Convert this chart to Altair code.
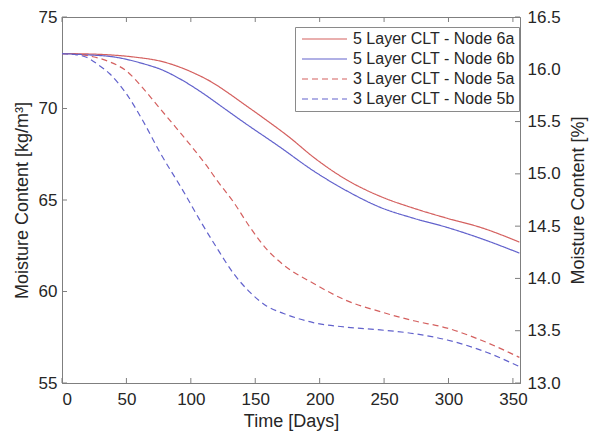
import altair as alt
import pandas as pd

series_names = ["5 Layer CLT - Node 6a", "5 Layer CLT - Node 6b",
                "3 Layer CLT - Node 5a", "3 Layer CLT - Node 5b"]

days_6a = [0, 20, 37, 55, 78, 102, 116, 128, 141, 154, 177, 195, 221, 247, 273, 299, 325, 355]
vals_6a = [73.0, 72.98, 72.93, 72.82, 72.56, 71.95, 71.45, 70.9, 70.25, 69.6, 68.4, 67.35, 66.1, 65.2, 64.55, 64.0, 63.5, 62.7]

days_6b = [0, 20, 39, 63, 78, 92, 109, 125, 141, 169, 195, 221, 247, 273, 299, 325, 355]
vals_6b = [73.0, 72.93, 72.83, 72.45, 72.1, 71.6, 70.85, 70.05, 69.25, 67.9, 66.6, 65.5, 64.6, 64.0, 63.5, 62.9, 62.1]

days_5a = [0, 12, 24, 37, 50, 63, 76, 88, 102, 112, 120, 133, 146, 159, 172, 195, 221, 247, 273, 299, 325, 355]
vals_5a = [73.0, 72.97, 72.83, 72.55, 72.05, 71.1, 70.0, 69.0, 67.8, 66.9, 66.1, 64.9, 63.5, 62.3, 61.45, 60.45, 59.5, 58.9, 58.4, 58.0, 57.35, 56.4]

days_5b = [0, 10, 19, 28, 37, 50, 63, 76, 94, 107, 120, 133, 146, 159, 172, 195, 221, 247, 273, 299, 325, 355]
vals_5b = [73.0, 72.95, 72.8, 72.4, 71.9, 70.8, 69.3, 67.6, 65.5, 63.9, 62.4, 61.0, 59.95, 59.2, 58.8, 58.3, 58.05, 57.9, 57.7, 57.35, 56.8, 55.9]

x_ticks = [0, 50, 100, 150, 200, 250, 300, 350]
left_ticks = [55, 60, 65, 70, 75]
right_ticks = [13, 13.5, 14, 14.5, 15, 15.5, 16, 16.5]

colors = ["#d4605f", "#6262cc", "#d4605f", "#6262cc"]
dashes = [[1, 0], [1, 0], [6, 4], [6, 4]]

rows = []
for name, ds, vs in zip(series_names, [days_6a, days_6b, days_5a, days_5b],
                        [vals_6a, vals_6b, vals_5a, vals_5b]):
    for d, v in zip(ds, vs):
        rows.append({"series": name, "day": d, "mc": v})
df = pd.DataFrame(rows)

FONT = "Liberation Sans"
AX = "#7f7f7f"
TXT = "#262626"
W, H = 458, 366

xscale = alt.Scale(domain=[0, 355.5], nice=False, zero=False)
yscale = alt.Scale(domain=[55, 75], nice=False, zero=False)
rscale = alt.Scale(domain=[13, 16.5], nice=False, zero=False)

legend_def = dict(title=None, orient="none", legendX=233, legendY=10,
                  symbolType="M-1,0L8,0", symbolSize=100,
                  symbolStrokeWidth=1.2, labelFontSize=16, labelLimit=400,
                  labelFont=FONT, labelColor=TXT, rowPadding=4,
                  fillColor="white", strokeColor="#8a8a8a",
                  padding=4, labelOffset=38)

lines = alt.Chart(df).mark_line(strokeWidth=1.2, interpolate="monotone").encode(
    x=alt.X("day:Q", scale=xscale,
            axis=alt.Axis(values=x_ticks, title="Time [Days]", tickSize=0,
                          labelPadding=8, titlePadding=5, format="d")),
    y=alt.Y("mc:Q", scale=yscale,
            axis=alt.Axis(values=left_ticks, title="Moisture Content [kg/m³]",
                          tickSize=0, labelPadding=5, titlePadding=7, format="d")),
    color=alt.Color("series:N", scale=alt.Scale(domain=series_names, range=colors),
                    legend=alt.Legend(**legend_def)),
    strokeDash=alt.StrokeDash("series:N", scale=alt.Scale(domain=series_names, range=dashes),
                              legend=alt.Legend(**legend_def)),
)

xt = pd.DataFrame({"t": x_ticks})
lt = pd.DataFrame({"t": left_ticks})
rt = pd.DataFrame({"t": right_ticks})

xticks_bottom = alt.Chart(xt).mark_rule(color=AX, strokeWidth=1).encode(
    x=alt.X("t:Q", scale=xscale), y=alt.value(H), y2=alt.value(H - 5))
xticks_top = alt.Chart(xt).mark_rule(color=AX, strokeWidth=1).encode(
    x=alt.X("t:Q", scale=xscale), y=alt.value(0), y2=alt.value(5))
lticks = alt.Chart(lt).mark_rule(color=AX, strokeWidth=1).encode(
    y=alt.Y("t:Q", scale=yscale), x=alt.value(0), x2=alt.value(5))

left_layer = alt.layer(lines, xticks_bottom, xticks_top, lticks)

right_layer = alt.Chart(rt).mark_rule(color=AX, strokeWidth=1).encode(
    y=alt.Y("t:Q", scale=rscale,
            axis=alt.Axis(orient="right", values=right_ticks, title="Moisture Content [%]",
                          tickSize=0, labelPadding=7, titlePadding=9, titleAngle=270,
                          titleBaseline="top")),
    x=alt.value(W), x2=alt.value(W - 5))

chart = alt.layer(left_layer, right_layer).resolve_scale(y="independent").properties(
    width=W, height=H,
    background="white",
    autosize=alt.AutoSizeParams(type="none"),
    padding={"left": 54, "top": 9, "right": 70, "bottom": 57},
).configure_view(stroke=AX, strokeWidth=1).configure_axis(
    labelFont=FONT, titleFont=FONT, labelFontSize=17, titleFontSize=18,
    labelColor=TXT, titleColor=TXT, titleFontWeight="normal",
    domainColor=AX, domainWidth=1, grid=False,
)

chart.save("out.html", embed_options={"renderer": "svg", "actions": False})
